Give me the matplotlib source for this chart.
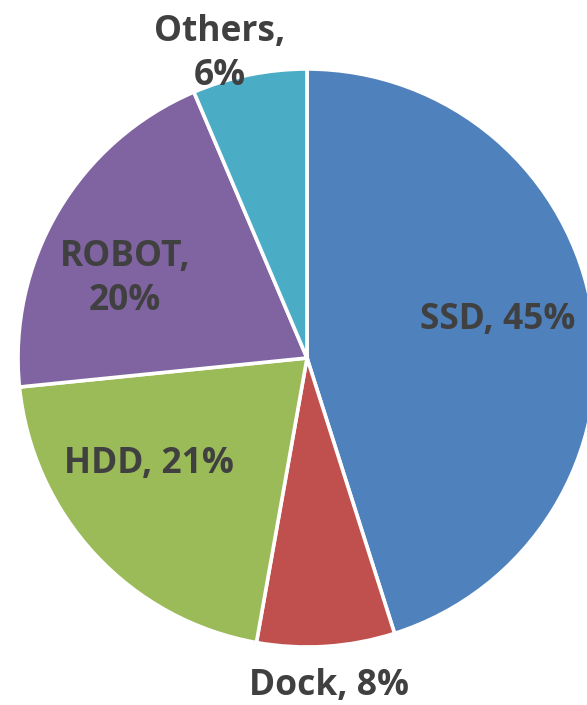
import matplotlib
matplotlib.use("Agg")
import matplotlib.pyplot as plt

categories = ["SSD", "Dock", "HDD", "ROBOT", "Others"]
values = [45.1, 7.7, 20.6, 20.2, 6.4]
colors = ["#4F81BD", "#C0504D", "#9BBB59", "#8064A2", "#4BACC6"]
label_texts = ["SSD, 45%", "Dock, 8%", "HDD, 21%", "ROBOT,\n20%", "Others,\n6%"]

W, H = 587, 705
CX, CY, R = 307, 358, 289
# label centres in pixel coordinates of the figure (top-left origin)
label_px = [(498, 320), (329, 686), (149, 464), (125, 279), (220, 54)]

fig = plt.figure(figsize=(W / 100, H / 100), dpi=100)
ax = fig.add_axes([0, 0, 1, 1])
ax.pie(values, colors=colors, startangle=90, counterclock=False, radius=1,
       wedgeprops=dict(edgecolor="white", linewidth=2.6))
ax.set_xlim(-CX / R, (W - CX) / R)
ax.set_ylim(-(H - CY) / R, CY / R)
ax.set_aspect("auto")
ax.axis("off")

for txt, (px, py) in zip(label_texts, label_px):
    ax.text((px - CX) / R, (CY - py) / R, txt, ha="center", va="center",
            fontsize=25.5, fontweight="bold", color="#404040",
            family=["Open Sans", "DejaVu Sans"], linespacing=1.3,
            multialignment="center")

fig.savefig("out.png", dpi=100)
